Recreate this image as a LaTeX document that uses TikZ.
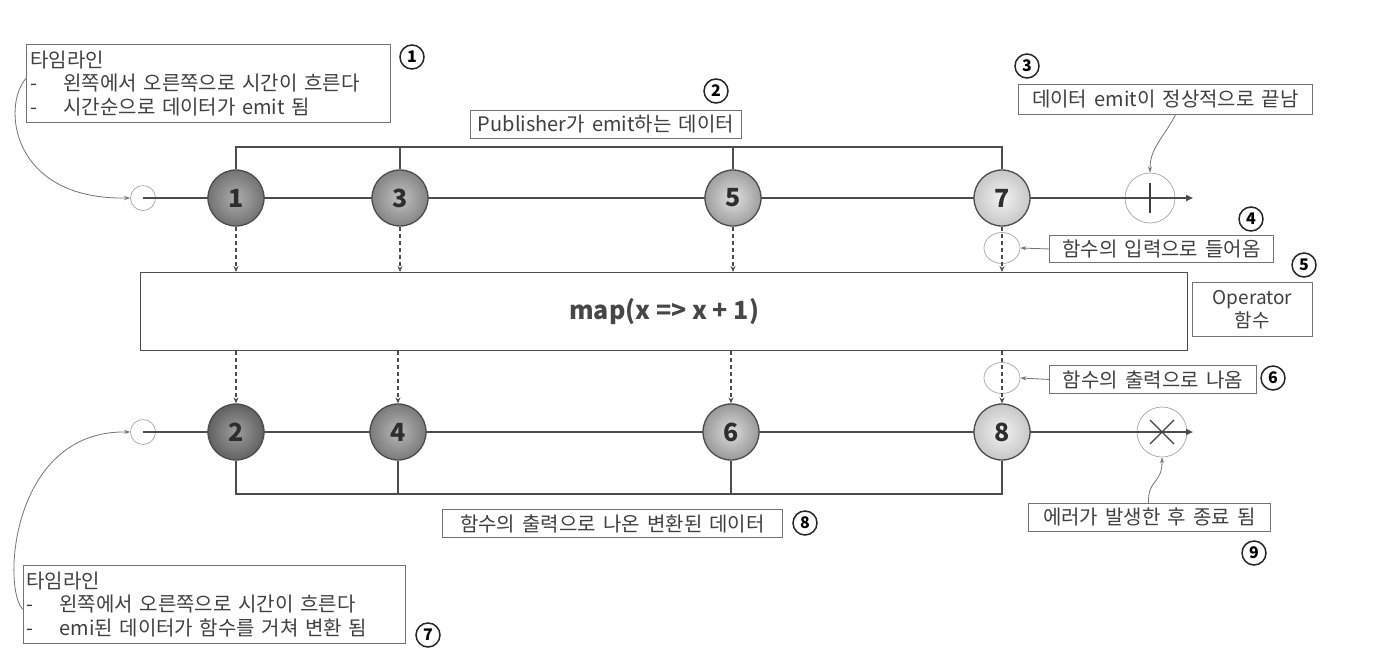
\documentclass[tikz,border=0pt]{standalone}
\usepackage{fontspec}
\setmainfont{Noto Sans CJK KR}
\newfontfamily\lblfont{Noto Sans CJK KR}[WordSpace=1.6]
\usetikzlibrary{arrows.meta,shapes.geometric}
\begin{document}
\begin{tikzpicture}[x=1pt,y=-1pt,
  lbl/.style={draw=black!55, line width=0.9pt, inner sep=1pt, text=black!75, font=\lblfont\fontsize{20}{23}\selectfont},
  marble/.style={circle, minimum size=56pt, inner sep=0pt, draw=black!70, line width=1.3pt, text=black!82, font=\fontsize{25}{25}\selectfont\bfseries},
  num/.style={circle, draw=black!85, line width=1.5pt, minimum size=24pt, inner sep=0pt, font=\fontsize{16}{16}\selectfont\bfseries},
  startc/.style={circle, minimum size=25pt, inner sep=0pt, draw=black!35, line width=0.7pt},
  endc/.style={circle, minimum size=50pt, inner sep=0pt, draw=black!35, line width=0.7pt},
  ioc/.style={ellipse, minimum width=36pt, minimum height=31pt, inner sep=0pt, draw=black!35, line width=0.7pt},
  tline/.style={draw=black!70, line width=1.8pt, -{Triangle[length=7pt,width=6pt]}},
  brk/.style={draw=black!70, line width=1.4pt},
  dsh/.style={draw=black!70, line width=1.1pt, dashed, dash pattern=on 4pt off 3pt, -{Stealth[length=6pt,width=5pt]}},
  callout/.style={draw=black!55, line width=0.8pt, -{Stealth[length=6pt,width=4pt]}}
]
\useasboundingbox (0,0) rectangle (1381,657);
\fill[white] (0,0) rectangle (1381,657);

% ---------- top timeline ----------
\node[startc] (s1) at (143,198) {};
\node[endc] (c1) at (1150,198) {};
\coordinate (e1) at (1193,198);
\draw[tline] (s1.center) -- (e1);
\draw[black!75, line width=1.5pt] (1150,183) -- (1150,213);
\node[marble, shading=radial, inner color=black!32, outer color=black!55] (m1) at (236,198) {1};
\node[marble, shading=radial, inner color=black!24, outer color=black!48] (m3) at (400,198) {3};
\node[marble, shading=radial, inner color=black!12, outer color=black!38] (m5) at (733,198) {5};
\node[marble, shading=radial, inner color=black!5, outer color=black!22] (m7) at (1002,198) {7};

\coordinate (tb) at (236,147);
\draw[brk] (m1.north) |- (tb -| m7) -- (m7.north);
\draw[brk] (m3.north) -- (m3 |- tb);
\draw[brk] (m5.north) -- (m5 |- tb);

% ---------- operator box ----------
\node[draw=black!70, line width=1.4pt, minimum width=1047pt, minimum height=78pt, inner sep=0pt, anchor=north west,
      font=\fontsize{25}{25}\selectfont\bfseries, text=black!72] (map) at (140,272) {map(x => x + 1)};

\node[ioc] (in7) at (1002,248) {};
\node[ioc] (out8) at (1002,378) {};

\draw[dsh] (m1.south) -- (m1 |- map.north);
\draw[dsh] (m3.south) -- (m3 |- map.north);
\draw[dsh] (m5.south) -- (m5 |- map.north);
\draw[dsh] (m7.south) -- (m7 |- map.north);

% ---------- bottom timeline ----------
\node[startc] (s2) at (143,432) {};
\node[endc] (c2) at (1162,432) {};
\coordinate (e2) at (1193,432);
\draw[tline] (s2.center) -- (e2);
\draw[black!75, line width=1.3pt] (1150,420) -- (1174,444) (1150,444) -- (1174,420);
\node[marble, shading=radial, inner color=black!38, outer color=black!62] (m2) at (236,432) {2};
\node[marble, shading=radial, inner color=black!28, outer color=black!52] (m4) at (398,432) {4};
\node[marble, shading=radial, inner color=black!14, outer color=black!40] (m6) at (731,432) {6};
\node[marble, shading=radial, inner color=black!5, outer color=black!22] (m8) at (1002,432) {8};

\draw[dsh] (m2 |- map.south) -- (m2.north);
\draw[dsh] (m4 |- map.south) -- (m4.north);
\draw[dsh] (m6 |- map.south) -- (m6.north);
\draw[dsh] (m8 |- map.south) -- (m8.north);

\coordinate (bb) at (236,494);
\draw[brk] (m2.south) |- (bb -| m8) -- (m8.south);
\draw[brk] (m4.south) -- (m4 |- bb);
\draw[brk] (m6.south) -- (m6 |- bb);

% ---------- labels ----------
\node[lbl, anchor=north west, minimum width=364pt, minimum height=78pt, align=left, text width=356pt, inner sep=4pt,
      font=\lblfont\fontsize{20}{23.5}\selectfont] (b1) at (26,44)
  {타임라인\\\makebox[33pt][l]{-}왼쪽에서 오른쪽으로 시간이 흐른다\\\makebox[33pt][l]{-}시간순으로 데이터가 emit 됨};
\node[num] (n1) at (412,57) {1};

\node[lbl, anchor=north west, minimum width=271pt, minimum height=28pt] (b2) at (470,110) {Publisher가 emit하는 데이터};
\node[num] (n2) at (716,91) {2};

\node[lbl, anchor=north west, minimum width=294pt, minimum height=30pt] (b3) at (1018,84) {데이터 emit이 정상적으로 끝남};
\node[num] (n3) at (1027,66) {3};

\node[lbl, anchor=north west, minimum width=224pt, minimum height=27pt] (b4) at (1049,235) {함수의 입력으로 들어옴};
\node[num] (n4) at (1251,219) {4};

\node[lbl, anchor=north west, minimum width=120pt, minimum height=54pt, align=center,
      font=\lblfont\fontsize{19}{23}\selectfont] (b5) at (1192,282) {Operator\\함수};
\node[num] (n5) at (1304,265) {5};

\node[lbl, anchor=north west, minimum width=207pt, minimum height=28pt] (b6) at (1049,365) {함수의 출력으로 나옴};
\node[num] (n6) at (1273,378) {6};

\node[lbl, anchor=north west, minimum width=382pt, minimum height=78pt, align=left, text width=376pt, inner sep=3pt,
      font=\lblfont\fontsize{20}{23.5}\selectfont] (b7) at (23,565)
  {타임라인\\\makebox[33pt][l]{-}왼쪽에서 오른쪽으로 시간이 흐른다\\\makebox[33pt][l]{-}emi된 데이터가 함수를 거쳐 변환 됨};
\node[num] (n7) at (428,635) {7};

\node[lbl, anchor=north west, minimum width=340pt, minimum height=28pt] (b8) at (442,509) {함수의 출력으로 나온 변환된 데이터};
\node[num] (n8) at (805,523) {8};

\node[lbl, anchor=north west, minimum width=242pt, minimum height=28pt] (b9) at (1028,503) {에러가 발생한 후 종료 됨};
\node[num] (n9) at (1254,553) {9};

% ---------- callouts ----------
\draw[callout] ([yshift=5pt]b1.west) .. controls (2,105) and (10,200) .. (s1.west);
\draw[callout] ([yshift=-5pt]b7.west) .. controls (2,590) and (10,430) .. (s2.west);
\draw[callout] ([xshift=10pt]b3.south) .. controls (1162,140) and (1150,148) .. (c1.north);
\draw[callout] ([xshift=-1pt]b9.north) .. controls (1148,478) and (1162,485) .. (c2.south);
\draw[callout] (b4.west) -- (in7.east);
\draw[callout] (b6.west) -- (out8.east);
\end{tikzpicture}
\end{document}
